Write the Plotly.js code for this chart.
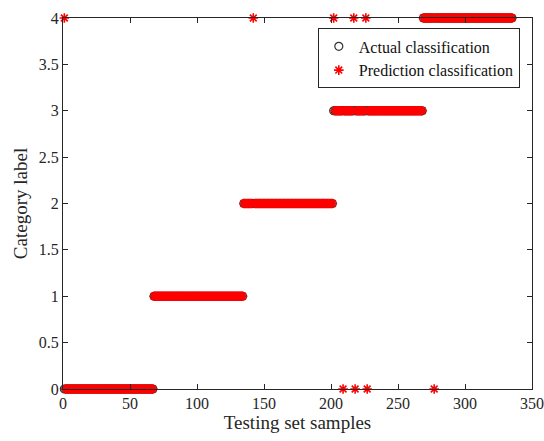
<!DOCTYPE html>
<html>
<head>
<meta charset="utf-8">
<script src="https://cdn.plot.ly/plotly-3.0.1.min.js"></script>
<style>html,body{margin:0;padding:0;background:#fff;}#chart{width:544px;height:441px;}</style>
</head>
<body>
<div id="chart"></div>
<script>
// Actual classes as runs of consecutive samples
const segmentLabels = [0, 1, 2, 3, 4];
const segmentStart  = [1, 68, 135, 202, 269];
const segmentEnd    = [67, 134, 201, 268, 335];
// Misclassified samples and their predicted labels
const errorSamples   = [1, 142, 202, 209, 217, 218, 226, 227, 277];
const errorPredicted = [4, 4, 4, 0, 4, 0, 4, 0, 0];
const xTicks = [0, 50, 100, 150, 200, 250, 300, 350];
const yTicks = [0, 0.5, 1, 1.5, 2, 2.5, 3, 3.5, 4];

const sampleIdx = [], actual = [];
segmentLabels.forEach((lab, k) => {
  for (let s = segmentStart[k]; s <= segmentEnd[k]; s++) { sampleIdx.push(s); actual.push(lab); }
});
const predicted = actual.slice();
errorSamples.forEach((s, k) => { predicted[sampleIdx.indexOf(s)] = errorPredicted[k]; });

const font = '"Liberation Serif", "Times New Roman", serif';
const axisColor = '#262626';

const traces = [
  { x: sampleIdx, y: actual, mode: 'markers', type: 'scatter', name: 'Actual classification',
    cliponaxis: false,
    marker: { symbol: 'circle-open', size: 8, color: '#333333', line: { width: 1.2, color: '#333333' } } },
  { x: sampleIdx, y: predicted, mode: 'markers', type: 'scatter', name: 'Prediction classification',
    cliponaxis: false,
    marker: { symbol: 'asterisk-open', size: 8, color: '#ff0000', line: { width: 1.6, color: '#ff0000' } } }
];

const layout = {
  width: 544, height: 441,
  margin: { l: 63, r: 12, t: 18, b: 52 },
  paper_bgcolor: '#fff', plot_bgcolor: '#fff',
  font: { family: font, size: 16, color: axisColor },
  showlegend: true,
  legend: {
    x: 0.974, xanchor: 'right', y: 0.972, yanchor: 'top',
    bordercolor: axisColor, borderwidth: 1, bgcolor: '#fff',
    font: { family: font, size: 16, color: '#111' },
    tracegroupgap: 0, itemwidth: 30
  },
  xaxis: {
    range: [0, 350], tickvals: xTicks, ticktext: xTicks.map(String),
    ticks: 'inside', ticklen: 5, tickcolor: axisColor, mirror: 'allticks',
    showline: true, linecolor: axisColor, linewidth: 1, showgrid: false, zeroline: false,
    tickfont: { family: font, size: 16, color: axisColor },
    title: { text: 'Testing set samples', font: { family: font, size: 19, color: axisColor }, standoff: 4 }
  },
  yaxis: {
    range: [0, 4], tickvals: yTicks, ticktext: yTicks.map(String),
    ticks: 'inside', ticklen: 5, tickcolor: axisColor, mirror: 'allticks',
    showline: true, linecolor: axisColor, linewidth: 1, showgrid: false, zeroline: false,
    tickfont: { family: font, size: 16, color: axisColor },
    title: { text: 'Category label', font: { family: font, size: 19, color: axisColor }, standoff: 6 }
  }
};

Plotly.newPlot('chart', traces, layout, { displayModeBar: false, staticPlot: true });
</script>
</body>
</html>
